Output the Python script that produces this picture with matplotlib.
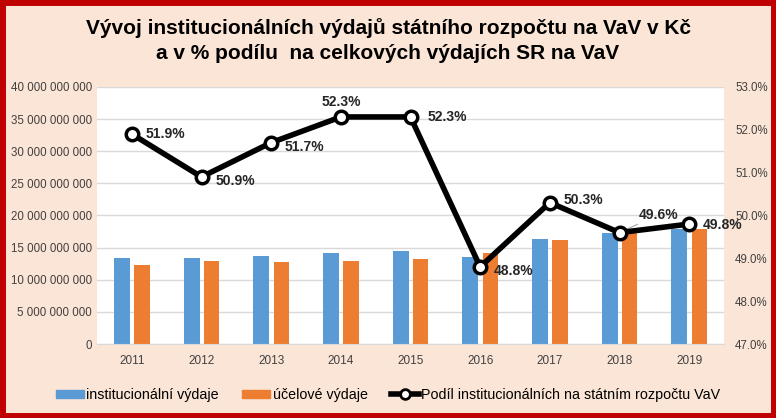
import numpy as np
import matplotlib.pyplot as plt
from matplotlib.patches import Rectangle
from matplotlib.lines import Line2D

plt.rcParams['font.family'] = ['Liberation Sans', 'DejaVu Sans']

#------Datos----------
roky = ['2011', '2012', '2013', '2014', '2015', '2016', '2017', '2018', '2019']
instit = [13.4e9, 13.4e9, 13.7e9, 14.2e9, 14.5e9, 13.5e9, 16.3e9, 17.2e9, 17.9e9]
ucelove = [12.3e9, 12.9e9, 12.8e9, 12.9e9, 13.2e9, 14.2e9, 16.2e9, 17.3e9, 17.9e9]
podil = [51.9, 50.9, 51.7, 52.3, 52.3, 48.8, 50.3, 49.6, 49.8]
podil_txt = ['51.9%', '50.9%', '51.7%', '52.3%', '52.3%', '48.8%', '50.3%', '49.6%', '49.8%']

bg = '#FBE5D6'
modra = '#5B9BD5'
oranz = '#ED7D31'

#------Graf----------
fig = plt.figure(figsize=(7.76, 4.18), dpi=100, facecolor=bg)
fig.patches.append(Rectangle((0.003, 0.005), 0.994, 0.99, transform=fig.transFigure,
                             fill=False, edgecolor='#C00000', linewidth=5))

ax = fig.add_axes([0.125, 0.177, 0.808, 0.615])
ax.set_facecolor('white')
x = np.arange(len(roky))
ax.bar(x - 0.14, instit, width=0.23, color=modra, zorder=2)
ax.bar(x + 0.145, ucelove, width=0.22, color=oranz, zorder=2)
ax.set_ylim(0, 40e9)
ax.set_xlim(-0.5, 8.5)
ax.set_yticks(np.arange(0, 40e9 + 1, 5e9))
ax.set_yticklabels(['0' if v == 0 else f'{int(v):,}'.replace(',', ' ') for v in np.arange(0, 40e9 + 1, 5e9)])
ax.set_xticks(x)
ax.set_xticklabels(roky)
ax.grid(axis='y', color='#D9D9D9', linewidth=1, zorder=0)
ax.tick_params(length=0, labelsize=8.3, colors='#404040')
ax.tick_params(axis='x', pad=8, labelsize=8.5)
for s in ax.spines.values():
    s.set_visible(False)
ax.spines['bottom'].set_visible(True)
ax.spines['bottom'].set_color('#D9D9D9')

ax2 = ax.twinx()
ax2.set_ylim(47, 53)
ax2.set_yticks(np.arange(47, 53.1, 1))
ax2.set_yticklabels([f'{v:.1f}%' for v in np.arange(47, 53.1, 1)])
ax2.tick_params(length=0, labelsize=8.3, colors='#404040', pad=8)
for s in ax2.spines.values():
    s.set_visible(False)
ax2.plot(x, podil, color='black', linewidth=4, marker='o', markersize=9,
         markerfacecolor='white', markeredgecolor='black', markeredgewidth=2.5, zorder=5)

offs = [(10, 0), (10, -3), (10, -3), (0, 11), (12, 0), (10, -3), (10, 2), (14, 13), (10, -1)]
for i, t in enumerate(podil_txt):
    dx, dy = offs[i]
    ha = 'center' if dx == 0 else 'left'
    if i == 7:
        ax2.annotate(t, (x[i], podil[i]), xytext=(dx, dy), textcoords='offset points',
                     ha='left', va='center', fontsize=10, fontweight='bold', color='#262626',
                     arrowprops=dict(arrowstyle='-', color='#A6A6A6', lw=0.8, shrinkA=0, shrinkB=2))
    else:
        ax2.annotate(t, (x[i], podil[i]), xytext=(dx, dy), textcoords='offset points',
                     ha=ha, va='center', fontsize=10, fontweight='bold', color='#262626')

fig.text(0.5, 0.903, 'Vývoj institucionálních výdajů státního rozpočtu na VaV v Kč\n'
         'a v % podílu  na celkových výdajích SR na VaV',
         ha='center', va='center', fontsize=15, fontweight='bold', linespacing=1.35)

h = [Rectangle((0, 0), 1, 1, color=modra), Rectangle((0, 0), 1, 1, color=oranz),
     Line2D([], [], color='black', lw=4, marker='o', markersize=7,
            markerfacecolor='white', markeredgecolor='black', markeredgewidth=2)]
fig.legend(h, ['institucionální výdaje', 'účelové výdaje', 'Podíl institucionálních na státním rozpočtu VaV'],
           loc='center', bbox_to_anchor=(0.5, 0.055), ncol=3, frameon=False, fontsize=10.3,
           handlelength=2.0, handleheight=0.55, handletextpad=0.15, columnspacing=1.6)

plt.savefig('out.png', dpi=100, facecolor=bg)
